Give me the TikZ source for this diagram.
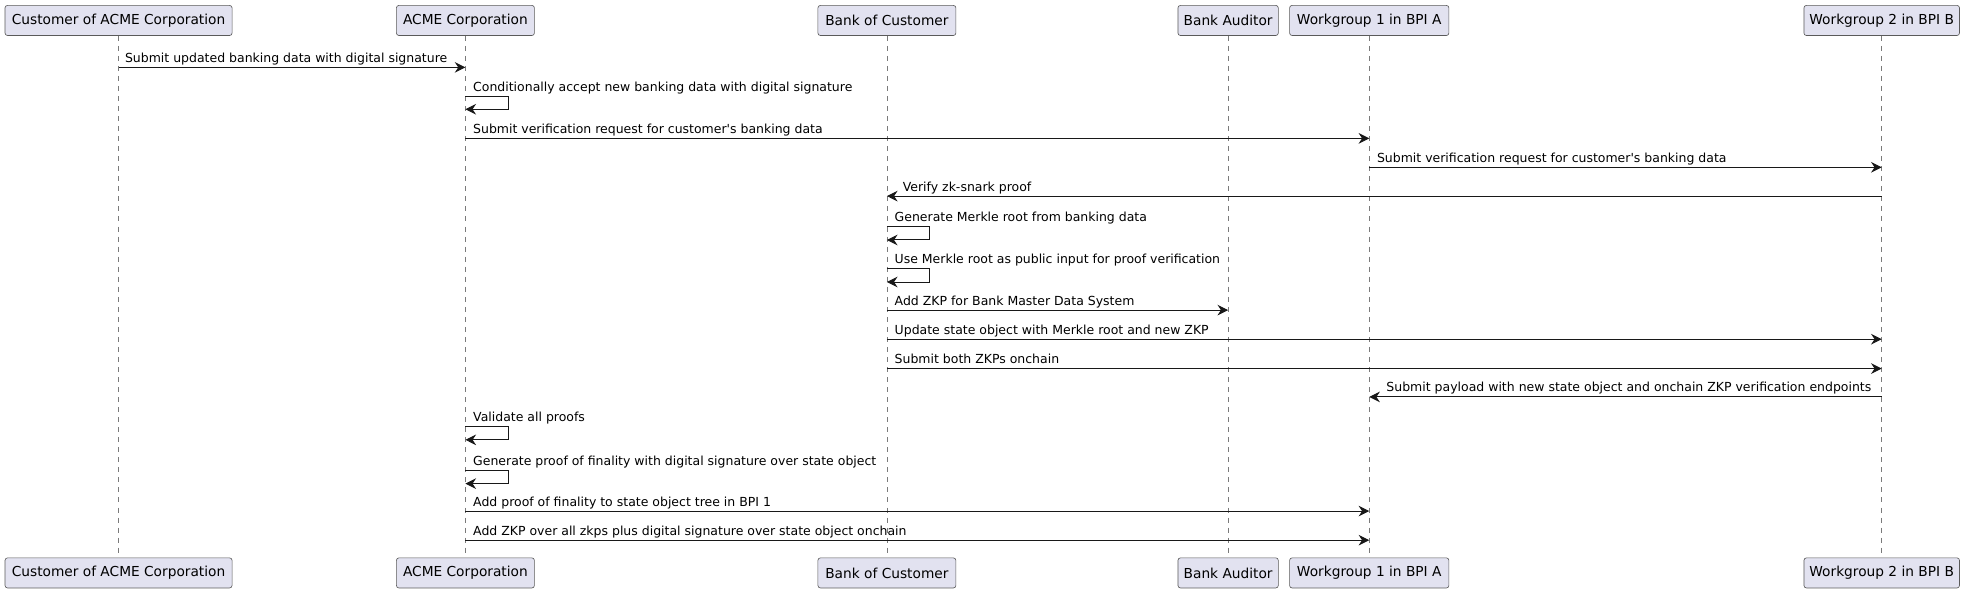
\documentclass[tikz,border=0pt]{standalone}
\usepackage{fontspec}
\setmainfont{DejaVu Sans}
\usetikzlibrary{arrows.meta,calc}
\definecolor{pfill}{HTML}{E2E2F0}
\definecolor{pline}{HTML}{181818}
\definecolor{pborder}{HTML}{5A5A5A}
\definecolor{plife}{HTML}{7A7A7A}
\begin{document}
\begin{tikzpicture}[x=1pt,y=-1pt,
  part/.style={draw=pborder, line width=0.5pt, fill=pfill, rounded corners=2pt,
    minimum height=24pt, inner sep=0pt, font=\fontsize{10.95}{12}\selectfont},
  life/.style={draw=plife, line width=0.45pt, dash pattern=on 4pt off 4pt},
  msg/.style={draw=pline, line width=0.8pt, -{Stealth[length=8.5pt,width=8.5pt,inset=2.8pt]}},
  lbl/.style={font=\fontsize{9.95}{11}\selectfont, inner sep=0pt, anchor=base west}]
\useasboundingbox (0,0) rectangle (1568,471.9);
% participants
\foreach \n/\x/\w/\t in {cu/94.5/181/Customer of ACME Corporation,
  ac/371/110/ACME Corporation, bk/707/110/Bank of Customer,
  au/979/80/Bank Auditor, wa/1091.5/127/Workgroup 1 in BPI A,
  wb/1500/124/Workgroup 2 in BPI B}{
  \node[part, minimum width=\w pt] (\n T) at (\x,16.3) {\t};
  \node[part, minimum width=\w pt] (\n B) at (\x,456.7) {\t};
  \draw[life] (\n T.south) -- (\n B.north);
}
% rows
\foreach \r/\y in {1/53.7,2/76.6,3/110.3,4/133.4,5/156.3,6/180.8,7/214.3,8/247.2,
  9/270.4,10/293.8,11/316.4,12/340.1,13/375,14/407.4,15/430.6}{
  \coordinate (r\r) at (0,\y);
}
% 1
\draw[msg] (cuT |- r1) -- (acT |- r1);
\node[lbl] (m1) at ($(cuT |- r1)+(5,-4)$) {Submit updated banking data with digital signature};
% 2
\draw[msg] (acT |- r2) -- ++(34,0) -- ++(0,10.5) -- ++(-34,0);
\node[lbl] (m2) at ($(acT |- r2)+(6,-4)$) {Conditionally accept new banking data with digital signature};
% 3
\draw[msg] (acT |- r3) -- (waT |- r3);
\node[lbl] (m3) at ($(acT |- r3)+(6,-4)$) {Submit verification request for customer\textquotesingle s banking data};
% 4
\draw[msg] (waT |- r4) -- (wbT |- r4);
\node[lbl] (m4) at ($(waT |- r4)+(6,-4)$) {Submit verification request for customer\textquotesingle s banking data};
% 5
\draw[msg] (wbT |- r5) -- (bkT |- r5);
\node[lbl] (m5) at ($(bkT |- r5)+(12.5,-4)$) {Verify zk-snark proof};
% 6
\draw[msg] (bkT |- r6) -- ++(34,0) -- ++(0,10.5) -- ++(-34,0);
\node[lbl] (m6) at ($(bkT |- r6)+(6,-4)$) {Generate Merkle root from banking data};
% 7
\draw[msg] (bkT |- r7) -- ++(34,0) -- ++(0,10.5) -- ++(-34,0);
\node[lbl] (m7) at ($(bkT |- r7)+(6,-4)$) {Use Merkle root as public input for proof verification};
% 8
\draw[msg] (bkT |- r8) -- (auT |- r8);
\node[lbl] (m8) at ($(bkT |- r8)+(6,-4)$) {Add ZKP for Bank Master Data System};
% 9
\draw[msg] (bkT |- r9) -- (wbT |- r9);
\node[lbl] (m9) at ($(bkT |- r9)+(6,-4)$) {Update state object with Merkle root and new ZKP};
% 10
\draw[msg] (bkT |- r10) -- (wbT |- r10);
\node[lbl] (m10) at ($(bkT |- r10)+(6,-4)$) {Submit both ZKPs onchain};
% 11
\draw[msg] (wbT |- r11) -- (waT |- r11);
\node[lbl] (m11) at ($(waT |- r11)+(13.5,-4)$) {Submit payload with new state object and onchain ZKP verification endpoints};
% 12
\draw[msg] (acT |- r12) -- ++(34,0) -- ++(0,10.5) -- ++(-34,0);
\node[lbl] (m12) at ($(acT |- r12)+(6,-4)$) {Validate all proofs};
% 13
\draw[msg] (acT |- r13) -- ++(34,0) -- ++(0,10.5) -- ++(-34,0);
\node[lbl] (m13) at ($(acT |- r13)+(6,-4)$) {Generate proof of finality with digital signature over state object};
% 14
\draw[msg] (acT |- r14) -- (waT |- r14);
\node[lbl] (m14) at ($(acT |- r14)+(6,-4)$) {Add proof of finality to state object tree in BPI 1};
% 15
\draw[msg] (acT |- r15) -- (waT |- r15);
\node[lbl] (m15) at ($(acT |- r15)+(6,-4)$) {Add ZKP over all zkps plus digital signature over state object onchain};
\end{tikzpicture}
\end{document}
